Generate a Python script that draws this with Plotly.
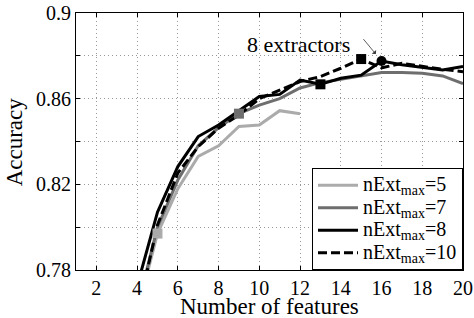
import plotly.graph_objects as go

# ---- data ----
features = [4, 5, 6, 7, 8, 9, 10, 11, 12, 13, 14, 15, 16, 17, 18, 19, 20]
features5 = [4, 5, 6, 7, 8, 9, 10, 11, 12]
acc5 = [0.760, 0.797, 0.818, 0.833, 0.8380, 0.847, 0.8477, 0.8544, 0.853]
acc7 = [0.762, 0.800, 0.822, 0.838, 0.8465, 0.853, 0.857, 0.860, 0.865, 0.8675,
        0.869, 0.8706, 0.8722, 0.8722, 0.8719, 0.8706, 0.867]
acc8 = [0.7725, 0.807, 0.8283, 0.8423, 0.8477, 0.8544, 0.861, 0.862, 0.8687, 0.8667,
        0.8695, 0.871, 0.8776, 0.8758, 0.8745, 0.8734, 0.875]
acc10 = [0.759, 0.801, 0.8253, 0.8376, 0.8462, 0.8524, 0.860, 0.864, 0.868, 0.8703,
         0.8742, 0.8785, 0.8744, 0.8765, 0.875, 0.8737, 0.8726]

series_names = ["nExt<sub>max</sub>=5", "nExt<sub>max</sub>=7",
                "nExt<sub>max</sub>=8", "nExt<sub>max</sub>=10"]

# highlighted points (feature counts)
mark5 = [5]
mark7 = [9]
mark8_sq = [13]
mark8_circ = [16]
mark10 = [15]

yticks = [0.78, 0.80, 0.82, 0.84, 0.86, 0.88, 0.90]
yticklabels = ["0.78", "", "0.82", "", "0.86", "", "0.9"]
xticks = [2, 4, 6, 8, 10, 12, 14, 16, 18, 20]
annot_text = "8 extractors"
xtitle = "Number of features"
ytitle = "Accuracy"

FONT = "Liberation Serif"
LIGHT = "#ababab"
MID = "#6e6e6e"
BLACK = "#000000"


def legend_label(s):
    return '<span style="font-size:20px">' + s + '</span>'


fig = go.Figure()
fig.add_trace(go.Scatter(x=features5, y=acc5, mode="lines", name=legend_label(series_names[0]),
                         line=dict(color=LIGHT, width=3)))
fig.add_trace(go.Scatter(x=features, y=acc7, mode="lines", name=legend_label(series_names[1]),
                         line=dict(color=MID, width=3)))
fig.add_trace(go.Scatter(x=features, y=acc8, mode="lines", name=legend_label(series_names[2]),
                         line=dict(color=BLACK, width=3)))
fig.add_trace(go.Scatter(x=features, y=acc10, mode="lines", name=legend_label(series_names[3]),
                         line=dict(color=BLACK, width=3, dash="9px,4px")))


def pick(xs, ys, sel):
    return [ys[xs.index(s)] for s in sel]


def add_marker(xs, ys, sel, color, symbol):
    fig.add_trace(go.Scatter(x=sel, y=pick(xs, ys, sel), mode="markers",
                             showlegend=False, hoverinfo="skip",
                             marker=dict(color=color, size=10, symbol=symbol,
                                         line=dict(width=0))))


add_marker(features5, acc5, mark5, LIGHT, "square")
add_marker(features, acc7, mark7, MID, "square")
add_marker(features, acc8, mark8_sq, BLACK, "square")
add_marker(features, acc8, mark8_circ, BLACK, "circle")
add_marker(features, acc10, mark10, BLACK, "square")

# annotation text and arrow
fig.add_annotation(x=11.9, y=0.8851, xref="x", yref="y", text=annot_text,
                   showarrow=False, font=dict(family=FONT, size=22, color="black"))
fig.add_annotation(x=mark8_circ[0], y=pick(features, acc8, mark8_circ)[0],
                   xref="x", yref="y",
                   ax=15.05, ay=0.8885, axref="x", ayref="y", text="",
                   showarrow=True, arrowhead=1, arrowsize=1.2, arrowwidth=0.8,
                   arrowcolor="#333333", standoff=9)

# axis titles as paper annotations
fig.add_annotation(x=0.5, y=-0.142, xref="paper", yref="paper", text=xtitle,
                   showarrow=False, xanchor="center", yanchor="middle",
                   font=dict(family=FONT, size=23, color="black"))
fig.add_annotation(x=-0.158, y=0.5, xref="paper", yref="paper", text=ytitle,
                   showarrow=False, xanchor="center", yanchor="middle", textangle=-90,
                   font=dict(family=FONT, size=23, color="black"))

axis_common = dict(showline=True, linecolor="black", linewidth=1, mirror="ticks",
                   ticks="inside", ticklen=4, tickcolor="black",
                   showgrid=True, gridcolor="#999999", gridwidth=1, griddash="1px,3px",
                   zeroline=False,
                   tickfont=dict(family=FONT, size=20, color="black"))

fig.update_xaxes(range=[1, 20], tickvals=xticks, **axis_common)
fig.update_yaxes(range=[0.78, 0.90], tickvals=yticks, ticktext=yticklabels,
                 **axis_common)

fig.update_layout(
    width=474, height=318,
    margin=dict(l=76, r=11, t=13, b=48, autoexpand=False),
    paper_bgcolor="white", plot_bgcolor="white",
    font=dict(family=FONT, color="black"),
    legend=dict(x=1, y=0, xanchor="right", yanchor="bottom",
                bgcolor="white", bordercolor="black", borderwidth=1,
                font=dict(family=FONT, size=15, color="black"),
                tracegroupgap=0, itemwidth=40),
)

fig.write_html("out.html", config={"displayModeBar": False},
               post_script="document.body.style.margin='0';")
